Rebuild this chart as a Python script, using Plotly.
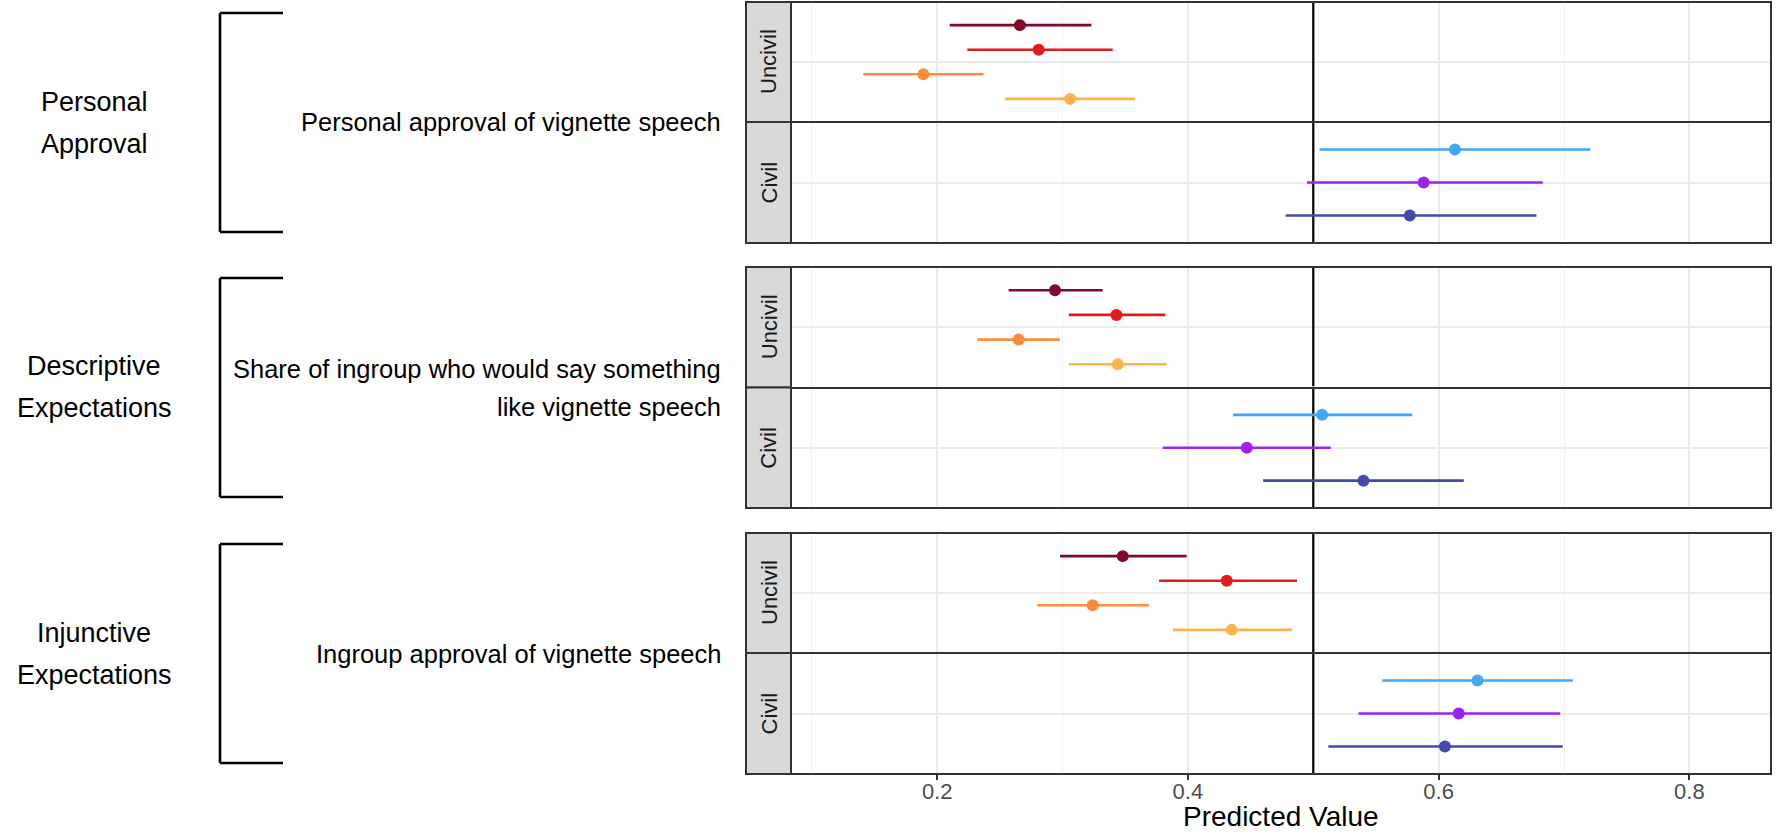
import plotly.graph_objects as go

# ---------------- data ----------------
outcome_groups = ["Personal\nApproval", "Descriptive\nExpectations", "Injunctive\nExpectations"]
outcome_measures = ["Personal approval of vignette speech",
                    "Share of ingroup who would say something\nlike vignette speech",
                    "Ingroup approval of vignette speech"]
facets = ["Uncivil", "Civil"]

uncivil_series = ["Uncivil 1", "Uncivil 2", "Uncivil 3", "Uncivil 4"]
civil_series = ["Civil 1", "Civil 2", "Civil 3"]
uncivil_colors = ["#7F0A2B", "#E41A1C", "#FD8D3C", "#FEB24C"]
civil_colors = ["#3FA9F5", "#A020F0", "#4349AD"]

# Personal approval
pa_uncivil_est = [0.266, 0.281, 0.189, 0.306]
pa_uncivil_lo = [0.210, 0.224, 0.141, 0.254]
pa_uncivil_hi = [0.323, 0.340, 0.237, 0.358]
pa_civil_est = [0.613, 0.588, 0.577]
pa_civil_lo = [0.505, 0.495, 0.478]
pa_civil_hi = [0.721, 0.683, 0.678]

# Descriptive expectations
de_uncivil_est = [0.294, 0.343, 0.265, 0.344]
de_uncivil_lo = [0.257, 0.305, 0.232, 0.305]
de_uncivil_hi = [0.332, 0.382, 0.298, 0.383]
de_civil_est = [0.507, 0.447, 0.540]
de_civil_lo = [0.436, 0.380, 0.460]
de_civil_hi = [0.579, 0.514, 0.620]

# Injunctive expectations
ie_uncivil_est = [0.348, 0.431, 0.324, 0.435]
ie_uncivil_lo = [0.298, 0.377, 0.280, 0.388]
ie_uncivil_hi = [0.399, 0.487, 0.369, 0.483]
ie_civil_est = [0.631, 0.616, 0.605]
ie_civil_lo = [0.555, 0.536, 0.512]
ie_civil_hi = [0.707, 0.697, 0.699]

reference_value = 0.5
x_ticks = [0.2, 0.4, 0.6, 0.8]
x_tick_labels = ["0.2", "0.4", "0.6", "0.8"]
x_title = "Predicted Value"

# ---------------- layout helpers ----------------
W, H = 1781, 835
FONT = "Liberation Sans, Arial, Helvetica, sans-serif"


def px(x):
    return x / W


def py(y):
    return 1 - y / H


panel_left, panel_right = 792, 1770
strip_left = 746
# (top, bottom) pixel rows for each sub-panel (2px gap so shared borders coincide)
sub_rows = [(3, 121), (123, 242), (268, 386.5), (388.5, 507), (534, 652), (654, 773)]
x_range = [0.0842, 0.8643]

panels = [
    (pa_uncivil_est, pa_uncivil_lo, pa_uncivil_hi, uncivil_series, uncivil_colors),
    (pa_civil_est, pa_civil_lo, pa_civil_hi, civil_series, civil_colors),
    (de_uncivil_est, de_uncivil_lo, de_uncivil_hi, uncivil_series, uncivil_colors),
    (de_civil_est, de_civil_lo, de_civil_hi, civil_series, civil_colors),
    (ie_uncivil_est, ie_uncivil_lo, ie_uncivil_hi, uncivil_series, uncivil_colors),
    (ie_civil_est, ie_civil_lo, ie_civil_hi, civil_series, civil_colors),
]

fig = go.Figure()
layout = dict(
    width=W, height=H, margin=dict(l=0, r=0, t=0, b=0),
    paper_bgcolor="white", plot_bgcolor="white", showlegend=False,
    font=dict(family=FONT, color="#1A1A1A"),
)
shapes = []
annotations = []

for j, (est, lo, hi, names, colors) in enumerate(panels, start=1):
    xa = "x" if j == 1 else f"x{j}"
    ya = "y" if j == 1 else f"y{j}"
    # reference line drawn first so the estimates sit on top
    fig.add_trace(go.Scatter(
        x=[reference_value, reference_value], y=[0.4, 1.6], xaxis=xa, yaxis=ya,
        mode="lines", line=dict(color="black", width=2.2), hoverinfo="skip",
    ))
    n = len(est)
    step = 1.0 / n
    for i in range(n):
        ypos = 1 + (n - 1) / 2 * step - i * step
        fig.add_trace(go.Scatter(
            x=[est[i]], y=[ypos], xaxis=xa, yaxis=ya, mode="markers",
            name=names[i],
            marker=dict(color=colors[i], size=12),
            error_x=dict(type="data", symmetric=False,
                         array=[hi[i] - est[i]], arrayminus=[est[i] - lo[i]],
                         color=colors[i], thickness=2.6, width=0),
        ))
    top, bot = sub_rows[j - 1]
    is_bottom = (j == len(panels))
    xkey = "xaxis" if j == 1 else f"xaxis{j}"
    ykey = "yaxis" if j == 1 else f"yaxis{j}"
    layout[xkey] = dict(
        domain=[px(panel_left), px(panel_right)], anchor=ya, range=x_range,
        tickvals=x_ticks, ticktext=x_tick_labels,
        showticklabels=is_bottom, ticks="outside" if is_bottom else "",
        ticklen=5, tickwidth=2, tickcolor="#333333", ticklabelstandoff=-7,
        tickfont=dict(size=22, color="#4D4D4D", family=FONT),
        showgrid=True, gridcolor="#EBEBEB", gridwidth=2,
        minor=dict(tickvals=[0.1, 0.3, 0.5, 0.7], showgrid=True,
                   gridcolor="#EFEFEF", gridwidth=1.2, ticks=""),
        showline=True, mirror=True, linecolor="#333333", linewidth=2,
        zeroline=False, fixedrange=True,
    )
    if j != 1:
        layout[xkey]["matches"] = "x"
    layout[ykey] = dict(
        domain=[py(bot), py(top)], anchor=xa, range=[0.4, 1.6],
        tickvals=[1], showticklabels=False, ticks="",
        showgrid=True, gridcolor="#EBEBEB", gridwidth=2,
        showline=True, mirror=True, linecolor="#333333", linewidth=2,
        zeroline=False, fixedrange=True,
    )
    # facet strip
    shapes.append(dict(type="rect", xref="paper", yref="paper",
                       x0=px(strip_left), x1=px(panel_left - 1), y0=py(bot + 1), y1=py(top - 1),
                       fillcolor="#D9D9D9", line=dict(color="#333333", width=2)))
    annotations.append(dict(xref="paper", yref="paper",
                            x=px((strip_left + panel_left) / 2), y=py((top + bot) / 2),
                            text=facets[(j - 1) % 2], textangle=-90, showarrow=False,
                            font=dict(size=22, color="#1A1A1A", family=FONT),
                            xanchor="center", yanchor="middle"))

# brackets and left-hand labels
bracket_x, bracket_arm = 220, 283
for g in range(3):
    top = sub_rows[2 * g][0]
    bot = sub_rows[2 * g + 1][1]
    bt, bb = top + 10, bot - 10
    for (x0, y0, x1, y1) in [(bracket_x, bt, bracket_x, bb),
                             (bracket_x, bt, bracket_arm, bt),
                             (bracket_x, bb, bracket_arm, bb)]:
        shapes.append(dict(type="line", xref="paper", yref="paper",
                           x0=px(x0), y0=py(y0), x1=px(x1), y1=py(y1),
                           line=dict(color="black", width=2.6)))
    center = (top + bot) / 2
    lines = outcome_groups[g].split("\n")
    for k, t in enumerate(lines):
        off = (k - (len(lines) - 1) / 2) * 42
        annotations.append(dict(xref="paper", yref="paper", x=px(94), y=py(center + off),
                                text=t, showarrow=False, xanchor="center", yanchor="middle",
                                font=dict(size=27, color="black", family=FONT)))
    mlines = outcome_measures[g].split("\n")
    for k, t in enumerate(mlines):
        off = (k - (len(mlines) - 1) / 2) * 38
        annotations.append(dict(xref="paper", yref="paper", x=px(723), y=py(center + off),
                                text=t, showarrow=False, xanchor="right", yanchor="middle",
                                font=dict(size=25.5, color="black", family=FONT)))

annotations.append(dict(xref="paper", yref="paper",
                        x=px((panel_left + panel_right) / 2), y=py(816),
                        text=x_title, showarrow=False, xanchor="center", yanchor="middle",
                        font=dict(size=28, color="black", family=FONT)))

layout["shapes"] = shapes
layout["annotations"] = annotations
fig.update_layout(**layout)
fig.write_html("out.html")
